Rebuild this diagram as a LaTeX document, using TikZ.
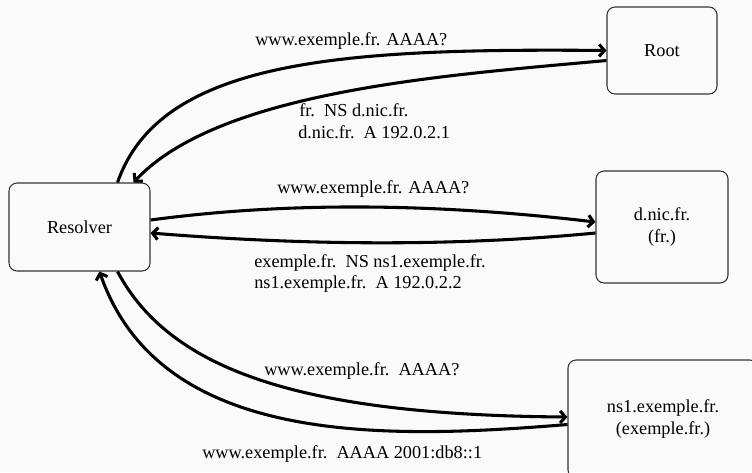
\documentclass[tikz,border=0pt]{standalone}
\usepackage{fontspec}
\setmainfont{Liberation Serif}
\usetikzlibrary{arrows.meta,calc}

\tikzset{
  server/.style={draw=black!80, line width=0.8pt, rounded corners=6pt,
    align=center, inner sep=0pt},
  msg/.style={line width=2.3pt, -{Straight Barb[length=4pt,width=9pt]}},
  lbl/.style={anchor=base west, inner sep=0pt},
}

\begin{document}
\begin{tikzpicture}[x=0.75pt, y=-0.75pt,
  every node/.append style={font=\fontsize{13.7pt}{16.4pt}\selectfont}]
  \useasboundingbox[fill=black!2] (0,0) rectangle (752,472);

  % name servers
  \node[server, minimum width=141*0.75pt, minimum height=88*0.75pt]
    (res) at (79.5,227) {Resolver};
  \node[server, minimum width=110*0.75pt, minimum height=87*0.75pt]
    (root) at (662,50.5) {Root};
  \node[server, minimum width=132*0.75pt, minimum height=112*0.75pt]
    (dnic) at (662,227) {d.nic.fr.\\(fr.)};
  \node[server, minimum width=190*0.75pt, minimum height=118*0.75pt]
    (ns1) at (663,419) {ns1.exemple.fr.\\(exemple.fr.)};

  % end points of the exchanges
  \coordinate (a1) at ($(res.north east)+(-33,0)$);
  \coordinate (a2) at ($(res.north east)+(-17,0)$);
  \coordinate (b1) at ($(res.east)+(0,-7)$);
  \coordinate (b2) at ($(res.east)+(0,6)$);
  \coordinate (c1) at ($(res.south east)+(-33,0)$);
  \coordinate (c2) at ($(res.south west)+(91,0)$);
  \coordinate (r1) at (root.west);
  \coordinate (r2) at ($(root.west)+(0,10)$);
  \coordinate (d1) at ($(dnic.west)+(0,-5)$);
  \coordinate (d2) at ($(dnic.west)+(0,6)$);
  \coordinate (n1) at ($(ns1.west)+(0,-2)$);
  \coordinate (n2) at ($(ns1.west)+(0,5.5)$);

  % queries and answers
  \draw[msg] (a1) .. controls (160,60) and (340,48) .. (r1);
  \draw[msg] (r2) .. controls (450,75) and (220,90) .. (a2);
  \draw[msg] (b1) .. controls (300,200) and (450,205) .. (d1);
  \draw[msg] (d2) .. controls (450,247) and (300,245) .. (b2);
  \draw[msg] (c1) .. controls (170,370) and (300,415) .. (n1);
  \draw[msg] (n2) .. controls (380,440) and (160,445) .. (c2);

  % message texts
  \node[lbl] (q1) at (255,45) {www.exemple.fr. AAAA?};
  \node[lbl] (ans1a) at (299,116.5) {fr.\ \ NS d.nic.fr.};
  \node[lbl] (ans1b) at (298,138.5) {d.nic.fr.\ \ A 192.0.2.1};
  \node[lbl] (q2) at (277,193) {www.exemple.fr. AAAA?};
  \node[lbl] (ans2a) at (254,267) {exemple.fr.\ \ NS ns1.exemple.fr.};
  \node[lbl] (ans2b) at (254,288.5) {ns1.exemple.fr.\ \ A 192.0.2.2};
  \node[lbl] (q3) at (264,375) {www.exemple.fr.\ \ AAAA?};
  \node[lbl] (ans3) at (202,458) {www.exemple.fr.\ \ AAAA 2001:db8::1};
\end{tikzpicture}
\end{document}
